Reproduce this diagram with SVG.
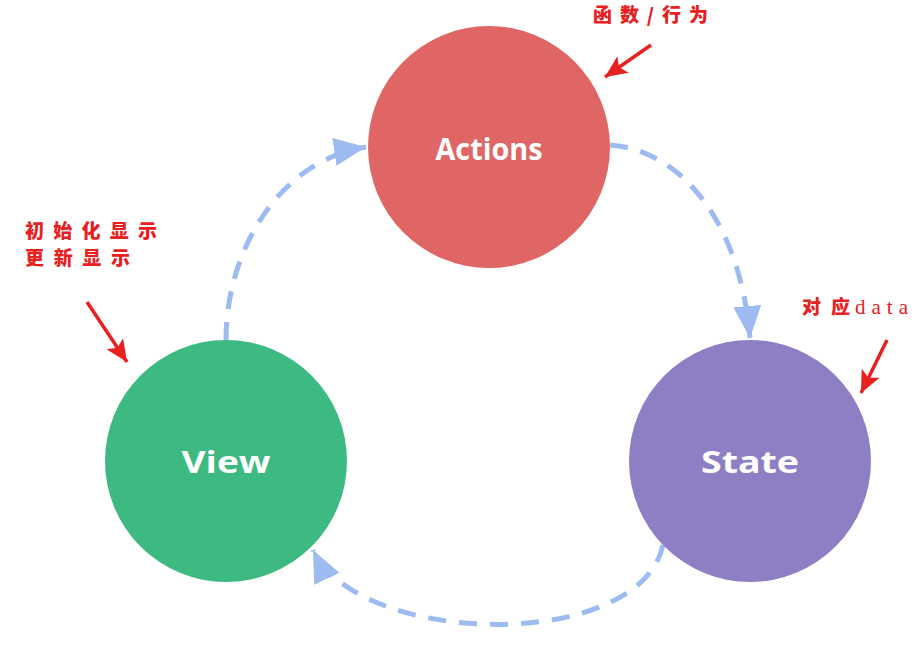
<svg xmlns="http://www.w3.org/2000/svg" width="924" height="661" viewBox="0 0 924 661">
<style>
.lbl{font-family:"Open Sans","Liberation Sans",sans-serif;font-weight:bold;font-size:31px;fill:#ffffff;text-anchor:middle;dominant-baseline:central}
.flow{fill:none;stroke:#9dbbf0;stroke-width:5;stroke-dasharray:18 13}
.note{font-family:"Noto Sans CJK SC",sans-serif;font-weight:900;font-size:19px;fill:#e8201f}
.red{stroke:#e8201f;stroke-width:3.5;fill:none}
</style>
<defs>
<marker id="ah" markerUnits="userSpaceOnUse" markerWidth="34" markerHeight="30" refX="32" refY="14" orient="auto">
<path d="M0,0 L32,14 L0,28 Z" fill="#9dbbf0"/>
</marker>
<marker id="rh" markerUnits="userSpaceOnUse" markerWidth="24" markerHeight="22" refX="22" refY="10" orient="auto">
<path d="M0,0 L22,10 L0,20 L5,10 Z" fill="#e8201f"/>
</marker>
</defs>
<g id="connectors">
<path class="flow" d="M226,340 C226,250 280,160 366,147" marker-end="url(#ah)"/>
<path class="flow" d="M610,145 C680,150 740,220 750,338" marker-end="url(#ah)"/>
<path class="flow" d="M663,545 C640,652 360,648 313,550" marker-end="url(#ah)"/>
</g>
<g id="actions">
<circle cx="489" cy="147" r="121" fill="#e06666"/>
<text class="lbl" x="489" y="148" textLength="107" lengthAdjust="spacingAndGlyphs">Actions</text>
</g>
<g id="view">
<circle cx="226" cy="461" r="121" fill="#3dba81"/>
<text class="lbl" x="226" y="461" textLength="89" lengthAdjust="spacingAndGlyphs">View</text>
</g>
<g id="state">
<circle cx="750" cy="461" r="121" fill="#8e7ec4"/>
<text class="lbl" x="750" y="461" textLength="98" lengthAdjust="spacingAndGlyphs">State</text>
</g>
<g id="annotations">
<text class="note" x="593" y="22" textLength="115" lengthAdjust="spacing">函数/行为</text>
<text class="note" x="25" y="238" textLength="132" lengthAdjust="spacing">初始化显示</text>
<text class="note" x="25" y="265" textLength="105" lengthAdjust="spacing">更新显示</text>
<text x="802" y="314"><tspan class="note" textLength="48" lengthAdjust="spacing">对应</tspan><tspan x="855" style="font-family:'Liberation Serif',serif;font-size:21px;fill:#e8201f" textLength="53" lengthAdjust="spacing">data</tspan></text>
<path class="red" d="M651,45 L605,77" marker-end="url(#rh)"/>
<path class="red" d="M87,302 L127,362" marker-end="url(#rh)"/>
<path class="red" d="M887,340 L861,393" marker-end="url(#rh)"/>
</g>
</svg>
